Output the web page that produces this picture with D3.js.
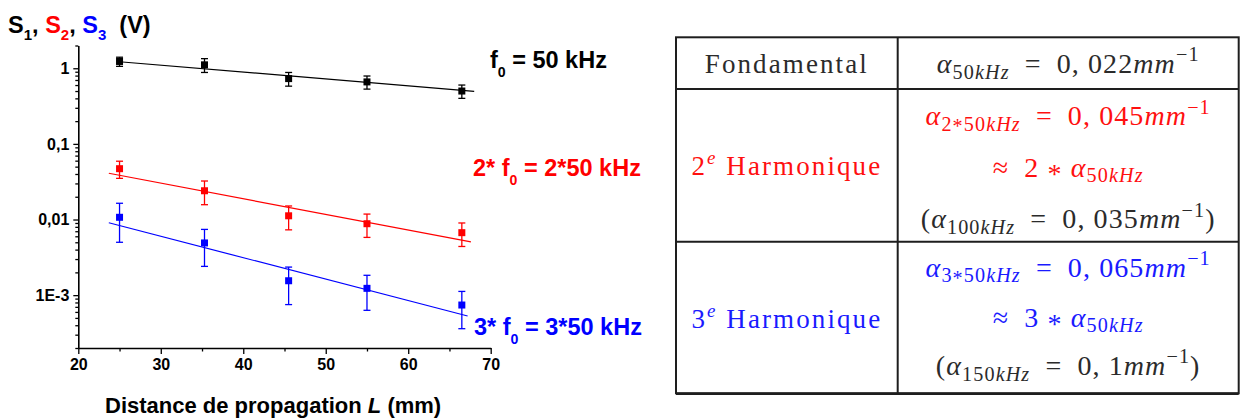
<!DOCTYPE html>
<html><head><meta charset="utf-8">
<script src="https://cdn.jsdelivr.net/npm/d3@7"></script>
<style>body{margin:0;background:#fff} svg{display:block} text{white-space:pre}</style>
</head><body>
<svg id="c" width="1242" height="418"></svg>
<script>
// ---- data ----
const distances = [25, 35.3, 45.5, 55, 66.5];           // L (mm)
const s1 = [1.23, 1.11, 0.73, 0.66, 0.50];              // S1 (V)
const s1Err = [0.17, 0.23, 0.15, 0.13, 0.10];
const s2 = [0.047, 0.024, 0.0112, 0.0088, 0.0067];      // S2 (V)
const s2Err = [0.012, 0.0083, 0.0039, 0.003, 0.0023];
const s3 = [0.0107, 0.0049, 0.00155, 0.00123, 0.00074]; // S3 (V)
const s3Err = [0.0057, 0.0025, 0.0008, 0.0006, 0.00038];
const fitStartL = [25, 23.7, 23.7];
const fitEndL = [68, 67.6, 67.2];
const fitStartS = [1.22, 0.0409, 0.00906];
const fitEndS = [0.496, 0.00506, 0.00053];
const xTicks = [20, 30, 40, 50, 60, 70];
const xMinorTicks = [25, 35, 45, 55, 65];
const yTicks = [1, 0.1, 0.01, 0.001];
const yTickLabels = ['1', '0,1', '0,01', '1E-3'];
const xTitle = ['Distance de propagation ', 'L', ' (mm)'];
const seriesColors = ['#000000', '#ff0000', '#0000ff'];
const freqLabels = [
  [{t:'f'},{t:'0',sub:true},{t:' = 50 kHz'}],
  [{t:'2* f'},{t:'0',sub:true},{t:' = 2*50 kHz'}],
  [{t:'3* f'},{t:'0',sub:true},{t:' = 3*50 kHz'}]
];
const tableLeft = ['Fondamental', '2|e| Harmonique', '3|e| Harmonique'];
const EQ = '\u2002=\u2002';
const tableRight = [
  [[{t:'α',i:1},{t:'50',sub:1},{t:'kHz',i:1,sub:1},{t:EQ+'0, 022'},{t:'mm',i:1},{t:'−1',sup:1}]],
  [[{t:'α',i:1},{t:'2',sub:1},{t:'*',sub:1,shift:0.12},{t:'50',sub:1},{t:'kHz',i:1,sub:1},{t:EQ+'0, 045'},{t:'mm',i:1},{t:'−1',sup:1}],
   [{t:'≈\u2002'},{t:'2 '},{t:'*',shift:0.22},{t:' '},{t:'α',i:1},{t:'50',sub:1},{t:'kHz',i:1,sub:1}],
   [{t:'('},{t:'α',i:1},{t:'100',sub:1},{t:'kHz',i:1,sub:1},{t:EQ+'0, 035'},{t:'mm',i:1},{t:'−1',sup:1},{t:')'}]],
  [[{t:'α',i:1},{t:'3',sub:1},{t:'*',sub:1,shift:0.12},{t:'50',sub:1},{t:'kHz',i:1,sub:1},{t:EQ+'0, 065'},{t:'mm',i:1},{t:'−1',sup:1}],
   [{t:'≈\u2002'},{t:'3 '},{t:'*',shift:0.22},{t:' '},{t:'α',i:1},{t:'50',sub:1},{t:'kHz',i:1,sub:1}],
   [{t:'('},{t:'α',i:1},{t:'150',sub:1},{t:'kHz',i:1,sub:1},{t:EQ+'0, 1'},{t:'mm',i:1},{t:'−1',sup:1},{t:')'}]]
];
const tableTextColors = [['#2b2b2b'], ['#ff1010','#ff1010','#2b2b2b'], ['#1a1aff','#1a1aff','#2b2b2b']];
const tableLeftColors = ['#2b2b2b', '#ff1010', '#1a1aff'];

// ---- drawing ----
const svg = d3.select('#c');
const SANS = 'Liberation Sans, Arial, sans-serif';
const SERIF = 'Liberation Serif, Times New Roman, serif';

function rich(sel, x, y, segs, o) {
  const t = sel.append('text').attr('x', x).attr('y', y)
    .attr('font-family', o.family).attr('font-size', o.size)
    .attr('font-weight', o.weight || 'normal').attr('fill', o.color)
    .attr('text-anchor', o.anchor || 'start');
  if (o.ls) t.attr('letter-spacing', o.ls);
  let cur = 0;
  segs.forEach(s => {
    const fs = (s.sub || s.sup) ? o.size * o.subScale : o.size;
    let target = s.sub ? o.size * o.subShift : (s.sup ? -o.size * o.supShift : 0);
    if (s.shift) target += s.shift * fs;
    const ts = t.append('tspan').attr('dy', target - cur).text(s.t);
    cur = target;
    if (s.sub || s.sup) ts.attr('font-size', fs);
    if (s.i) ts.attr('font-style', 'italic');
    if (s.color) ts.attr('fill', s.color);
  });
  return t;
}

const x = d3.scaleLinear().domain([20, 70]).range([78.3, 490.7]);
const y = d3.scaleLog().domain([2e-4, 2]).range([348, 45.5]);

// y axis minor
const yMinor = [];
[1e-4, 1e-3, 1e-2, 1e-1, 1].forEach(d => { for (let k = 2; k <= 9; k++) { const v = d * k; if (v >= 2e-4 && v <= 2) yMinor.push(v); } });
const gy = svg.append('g').attr('transform', `translate(${x.range()[0]},0)`);
gy.call(d3.axisLeft(y).tickValues(yMinor).tickSize(3).tickFormat('').tickSizeOuter(0));
gy.call(g => g.selectAll('path').remove());
const gy2 = svg.append('g').attr('transform', `translate(${x.range()[0]},0)`);
gy2.call(d3.axisLeft(y).tickValues(yTicks).tickSize(5).tickSizeOuter(0).tickPadding(4)
  .tickFormat((d, i) => yTickLabels[i]));
[gy, gy2].forEach(g => {
  g.selectAll('line').attr('stroke', '#000').attr('stroke-width', 1.3);
  g.selectAll('path').attr('stroke', '#000').attr('stroke-width', 1.6);
});
gy2.selectAll('text').attr('font-family', SANS).attr('font-weight', 'bold').attr('font-size', 16).attr('fill', '#000');

// x axis
const gx = svg.append('g').attr('transform', `translate(0,${y.range()[0]})`);
gx.call(d3.axisBottom(x).tickValues(xMinorTicks).tickSize(3.5).tickFormat('').tickSizeOuter(0));
gx.call(g => g.selectAll('path').remove());
const gx2 = svg.append('g').attr('transform', `translate(0,${y.range()[0]})`);
gx2.call(d3.axisBottom(x).tickValues(xTicks).tickSize(6).tickSizeOuter(0).tickPadding(4.5).tickFormat(d3.format('d')));
[gx, gx2].forEach(g => {
  g.selectAll('line').attr('stroke', '#000').attr('stroke-width', 1.3);
  g.selectAll('path').attr('stroke', '#000').attr('stroke-width', 1.6);
});
gx2.selectAll('text').attr('font-family', SANS).attr('font-weight', 'bold').attr('font-size', 16).attr('fill', '#000');

// series
const series = [s1, s2, s3];
const errs = [s1Err, s2Err, s3Err];
series.forEach((vals, si) => {
  const col = seriesColors[si];
  const g = svg.append('g');
  g.append('line')
    .attr('x1', x(fitStartL[si])).attr('y1', y(fitStartS[si]))
    .attr('x2', x(fitEndL[si])).attr('y2', y(fitEndS[si]))
    .attr('stroke', col).attr('stroke-width', 1.2);
  const pts = distances.map((L, i) => ({L, v: vals[i], e: errs[si][i]}));
  const eb = g.selectAll('g.eb').data(pts).enter().append('g');
  eb.append('line').attr('x1', d => x(d.L)).attr('x2', d => x(d.L))
    .attr('y1', d => y(d.v + d.e)).attr('y2', d => y(d.v - d.e))
    .attr('stroke', col).attr('stroke-width', 1.3);
  [1, -1].forEach(sg => {
    eb.append('line').attr('x1', d => x(d.L) - 3.5).attr('x2', d => x(d.L) + 3.5)
      .attr('y1', d => y(d.v + sg * d.e)).attr('y2', d => y(d.v + sg * d.e))
      .attr('stroke', col).attr('stroke-width', 1.3);
  });
  g.selectAll('rect').data(pts).enter().append('rect')
    .attr('x', d => x(d.L) - 3.5).attr('y', d => y(d.v) - 3.5)
    .attr('width', 7).attr('height', 7).attr('fill', col);
});

// frequency labels
const labelPos = [[490, 68], [473, 176], [474, 335]];
freqLabels.forEach((segs, i) => {
  rich(svg, labelPos[i][0], labelPos[i][1], segs,
    {family: SANS, size: 23.5, weight: 'bold', color: seriesColors[i], subShift: 0.38, subScale: 0.6, supShift: 0});
});

// y title
rich(svg, 8, 33, [
  {t:'S', color: seriesColors[0]}, {t:'1', sub:1, color: seriesColors[0]}, {t:', '},
  {t:'S', color: seriesColors[1]}, {t:'2', sub:1, color: seriesColors[1]}, {t:', '},
  {t:'S', color: seriesColors[2]}, {t:'3', sub:1, color: seriesColors[2]}, {t:'  (V)'}
], {family: SANS, size: 23.5, weight: 'bold', color: '#000', subShift: 0.3, subScale: 0.64, supShift: 0});

// x title
const xt = svg.append('text').attr('x', 105).attr('y', 413).attr('font-family', SANS)
  .attr('font-size', 22).attr('font-weight', 'bold').attr('fill', '#000');
xTitle.forEach((t, i) => xt.append('tspan').text(t).attr('font-style', i === 1 ? 'italic' : 'normal'));

// ---- table ----
const T = {x0: 676, x1: 897.7, x2: 1238.7, y0: 37.3, y1: 89, y2: 241.7, y3: 393.3};
const tg = svg.append('g');
tg.append('rect').attr('x', T.x0).attr('y', T.y0).attr('width', T.x2 - T.x0).attr('height', T.y3 - T.y0)
  .attr('fill', 'none').attr('stroke', '#1e1e1e').attr('stroke-width', 2);
tg.append('line').attr('x1', T.x0).attr('x2', T.x2).attr('y1', T.y3 + 0.5).attr('y2', T.y3 + 0.5).attr('stroke', '#1e1e1e').attr('stroke-width', 2.5);
tg.append('line').attr('x1', T.x1).attr('x2', T.x1).attr('y1', T.y0).attr('y2', T.y3).attr('stroke', '#1e1e1e').attr('stroke-width', 2);
[T.y1, T.y2].forEach(yy => tg.append('line').attr('x1', T.x0).attr('x2', T.x2).attr('y1', yy).attr('y2', yy).attr('stroke', '#1e1e1e').attr('stroke-width', 2));

const leftBase = [73, 175, 327.7];
tableLeft.forEach((s, i) => {
  const parts = s.split('|');
  const segs = parts.length > 1 ? [{t: parts[0]}, {t: parts[1], sup: 1, i: 1}, {t: parts[2]}] : [{t: s}];
  rich(tg, (T.x0 + T.x1) / 2, leftBase[i], segs,
    {family: SERIF, size: 27, color: tableLeftColors[i], anchor: 'middle', ls: 2.1, subShift: 0.25, supShift: 0.4, subScale: 0.7});
});
const rightBase = [[73], [125.3, 176.7, 228.3], [276.7, 326.7, 375]];
tableRight.forEach((lines, ri) => {
  lines.forEach((segs, li) => {
    rich(tg, (T.x1 + T.x2) / 2, rightBase[ri][li], segs,
      {family: SERIF, size: 28, color: tableTextColors[ri][li], anchor: 'middle', ls: 1.1, subShift: 0.2, supShift: 0.42, subScale: 0.72});
  });
});
</script>
</body></html>
